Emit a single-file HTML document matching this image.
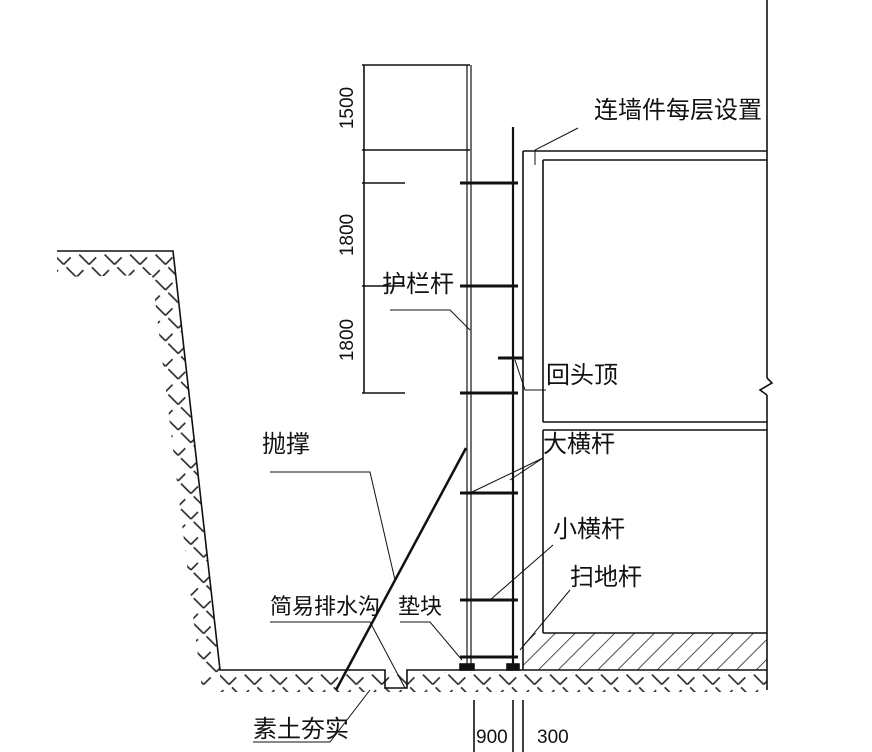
<!DOCTYPE html>
<html><head><meta charset="utf-8"><style>
body{margin:0;background:#fff}
svg{display:block}
text{font-family:"Liberation Sans","Noto Sans CJK SC",sans-serif;fill:#111}
</style></head><body>
<svg width="872" height="752" viewBox="0 0 872 752" xmlns="http://www.w3.org/2000/svg">
<defs>
<pattern id="h" width="14" height="14" patternUnits="userSpaceOnUse" patternTransform="rotate(45)">
<line x1="0" y1="0" x2="0" y2="14" stroke="#222" stroke-width="1.6"/>
</pattern>
<pattern id="h2" width="18" height="18" patternUnits="userSpaceOnUse" patternTransform="rotate(-45)">
<line x1="2" y1="2" x2="2" y2="16" stroke="#222" stroke-width="1.6"/>
<line x1="2" y1="16" x2="12" y2="16" stroke="#222" stroke-width="1.6"/>
</pattern>
</defs>
<g stroke="#111" fill="none" stroke-width="1.6">
<!-- excavation -->
<polygon points="57,253 173,253 220,670 202,690 152,275 57,277" fill="url(#h2)" stroke="none"/>
<polygon points="220,672 767,672 767,692 220,692" fill="url(#h2)" stroke="none"/>
<polyline points="57,251 173,251 220,670 385,670 385,688 407,688 407,670 767,670"/>
<!-- base slab -->
<rect x="523" y="633" width="244" height="37" fill="url(#h)" stroke="none"/>
<line x1="543" y1="633" x2="767" y2="633"/>
<!-- wall -->
<line x1="523" y1="151" x2="523" y2="670"/>
<line x1="543" y1="160" x2="543" y2="422"/>
<line x1="543" y1="430" x2="543" y2="633"/>
<line x1="523" y1="151" x2="767" y2="151"/>
<line x1="543" y1="160" x2="767" y2="160"/>
<line x1="543" y1="422" x2="767" y2="422"/>
<line x1="543" y1="430" x2="767" y2="430"/>
<line x1="767" y1="0" x2="767" y2="378"/>
<polyline points="767,378 772,383 760,390 767,395"/>
<line x1="767" y1="395" x2="767" y2="690"/>
<!-- poles -->
<line x1="467" y1="65" x2="467" y2="665" stroke-width="1.2"/>
<line x1="471" y1="65" x2="471" y2="665" stroke-width="1.2"/>
<line x1="513" y1="127" x2="513" y2="668" stroke-width="2.2"/>
<!-- ledgers -->
<g stroke-width="3">
<line x1="460" y1="183" x2="518" y2="183"/>
<line x1="460" y1="286" x2="518" y2="286"/>
<line x1="460" y1="393" x2="518" y2="393"/>
<line x1="460" y1="493" x2="518" y2="493"/>
<line x1="460" y1="600" x2="518" y2="600"/>
<line x1="460" y1="657" x2="518" y2="657"/>
<line x1="498" y1="358" x2="523" y2="358"/>
</g>
<rect x="460" y="664" width="14" height="6" fill="#111"/>
<rect x="507" y="664" width="12" height="6" fill="#111"/>
<!-- dims -->
<line x1="364" y1="65" x2="364" y2="393"/>
<line x1="362" y1="65" x2="470" y2="65"/>
<line x1="362" y1="150" x2="470" y2="150"/>
<line x1="362" y1="183" x2="405" y2="183"/>
<line x1="362" y1="286" x2="405" y2="286"/>
<line x1="362" y1="393" x2="405" y2="393"/>
<line x1="474" y1="700" x2="474" y2="752"/>
<line x1="513" y1="700" x2="513" y2="752"/>
<line x1="523" y1="700" x2="523" y2="752"/>
<!-- brace -->
<line x1="466" y1="448" x2="336" y2="690" stroke-width="2.5"/>
<!-- leaders -->
<g stroke-width="1">
<polyline points="578,128 535,150 535,165"/>
<polyline points="390,310 450,310 470,330"/>
<polyline points="546,390 525,390 515,360"/>
<polyline points="543,458 470,493"/>
<polyline points="543,458 510,480"/>
<polyline points="553,545 490,600"/>
<polyline points="570,590 520,650"/>
<polyline points="270,472 370,472 395,580"/>
<polyline points="270,622 370,622 405,688"/>
<polyline points="400,622 430,622 462,660"/>
<polyline points="253,742 330,742 370,690"/>
</g>
</g>
<g font-size="24">
<text x="594" y="118">连墙件每层设置</text>
<text x="382" y="292">护栏杆</text>
<text x="546" y="383">回头顶</text>
<text x="543" y="452">大横杆</text>
<text x="262" y="452">抛撑</text>
<text x="553" y="537">小横杆</text>
<text x="570" y="585">扫地杆</text>
<text x="270" y="614" font-size="22">简易排水沟</text>
<text x="398" y="614" font-size="22">垫块</text>
<text x="253" y="737">素土夯实</text>
</g>
<g font-size="19">
<text x="476" y="743">900</text>
<text x="537" y="743">300</text>
<text transform="translate(353,108) rotate(-90)" text-anchor="middle">1500</text>
<text transform="translate(353,235) rotate(-90)" text-anchor="middle">1800</text>
<text transform="translate(353,340) rotate(-90)" text-anchor="middle">1800</text>
</g>
</svg>
</body></html>
